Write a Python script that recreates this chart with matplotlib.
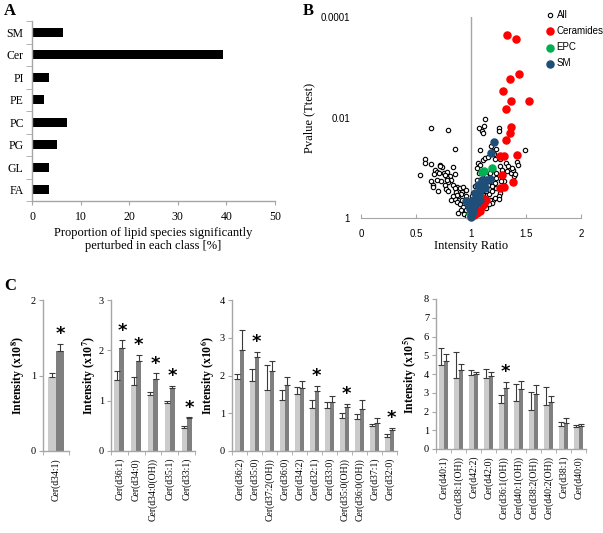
import numpy as np
import matplotlib.pyplot as plt

plt.rcParams['font.family'] = 'Liberation Serif'
plt.rcParams['mathtext.fontset'] = 'stix'

# ---------- panel A data ----------
classes = ['SM', 'Cer', 'PI', 'PE', 'PC', 'PG', 'GL', 'FA']
proportion = [6.4, 39.4, 3.4, 2.5, 7.2, 5.1, 3.4, 3.6]

# ---------- panel B data (x = intensity ratio, v = -log10 pvalue) ----------
all_x = [0.64, 0.79, 0.85, 0.58, 0.58, 0.54, 0.64, 0.72, 0.74, 0.67, 0.69, 0.66, 0.71, 0.75,
         0.78, 0.84, 0.85, 0.81, 0.78, 0.82, 0.79, 0.73, 0.69, 0.64, 0.65, 0.65, 0.70, 0.76,
         0.77, 0.79, 0.84, 0.87, 0.90, 0.93, 0.92, 0.91, 0.86, 0.88, 0.85, 0.87, 0.90, 0.93,
         0.95, 0.91, 0.88, 0.94, 0.96, 0.92, 0.95, 0.87, 0.84, 0.82, 0.95, 0.85, 0.97, 0.98,
         0.72, 0.76, 0.78,
         1.13, 1.07, 1.10, 1.11, 1.12, 1.25, 1.25, 1.08, 1.18, 1.20, 1.23, 1.49, 1.06, 1.08,
         1.11, 1.13, 1.15, 1.21, 1.22, 1.26, 1.23, 1.26, 1.28, 1.32, 1.34, 1.36, 1.38, 1.42,
         1.43, 1.39, 1.33, 1.30, 1.27, 1.22, 1.23, 1.26, 1.25, 1.20, 1.17, 1.19, 1.16, 1.14,
         1.22, 1.25, 1.12, 1.15, 1.10, 1.05, 1.04, 1.02, 1.01, 1.00, 1.03, 1.05, 1.08, 1.13,
         1.16, 1.19, 1.29, 1.37, 1.40, 1.05, 1.17, 1.20, 1.17, 1.19, 1.14, 1.11, 1.08, 1.05,
         1.01, 0.98, 1.02, 1.23, 1.14, 1.07, 1.02]
all_v = [1.80, 1.76, 1.37, 1.18, 1.09, 0.85, 1.07, 1.06, 1.01, 0.96, 0.92, 0.88, 0.90, 0.90,
         0.91, 1.01, 0.88, 0.83, 0.80, 0.75, 0.71, 0.73, 0.76, 0.73, 0.66, 0.62, 0.53, 0.66,
         0.58, 0.54, 0.66, 0.62, 0.59, 0.62, 0.52, 0.48, 0.52, 0.43, 0.38, 0.31, 0.27, 0.22,
         0.15, 0.15, 0.10, 0.07, 0.03, 0.36, 0.43, 0.46, 0.43, 0.36, 0.56, 0.60, 0.30, 0.20,
         1.04, 0.86, 0.76,
         1.97, 1.79, 1.74, 1.69, 1.84, 1.79, 1.74, 1.35, 1.43, 1.34, 1.38, 1.35, 1.09, 1.06,
         1.16, 1.19, 1.21, 1.28, 1.17, 1.18, 0.90, 1.03, 0.95, 1.09, 1.03, 0.90, 0.96, 1.11,
         1.05, 0.83, 0.93, 0.73, 0.73, 0.70, 0.60, 0.50, 0.43, 0.36, 0.36, 0.29, 0.27, 0.20,
         0.40, 0.38, 0.63, 0.66, 0.56, 0.76, 0.63, 0.50, 0.43, 0.36, 0.23, 0.18, 0.27, 0.40,
         0.48, 0.53, 0.86, 1.00, 0.88, 1.00, 0.90, 0.96, 0.73, 0.63, 0.53, 0.46, 0.36, 0.27,
         0.17, 0.10, 0.05, 0.80, 0.83, 0.90, 0.30]
cer_x = [1.33, 1.41, 1.44, 1.35, 1.29, 1.36, 1.53, 1.32, 1.36, 1.35, 1.32, 1.42, 1.26,
         1.30, 1.28, 1.38, 1.26, 1.30, 1.08, 1.11, 1.14, 1.12, 1.08, 1.05, 1.03, 1.10]
cer_v = [3.65, 3.57, 2.87, 2.77, 2.52, 2.32, 2.32, 2.17, 1.82, 1.69, 1.56, 1.26, 1.23,
         1.24, 0.85, 0.71, 0.60, 0.62, 0.43, 0.25, 0.36, 0.30, 0.13, 0.10, 0.05, 0.40]
epc_x = [1.10, 1.12, 1.19, 1.07, 1.04, 0.99, 1.01, 0.96]
epc_v = [0.91, 0.93, 1.00, 0.46, 0.36, 0.07, 0.10, 0.33]
sm_x = [1.21, 1.18, 1.10, 1.11, 1.14, 1.17, 1.13, 1.08, 1.07, 1.08, 1.02, 0.98, 0.95,
        0.99, 1.01, 1.02, 1.03, 1.05, 1.00, 1.04, 1.06, 1.12]
sm_v = [1.51, 1.29, 0.76, 0.70, 0.76, 0.78, 0.60, 0.56, 0.43, 0.36, 0.36, 0.23, 0.33,
        0.17, 0.07, 0.13, 0.23, 0.30, 0.02, 0.50, 0.66, 0.68]

# ---------- panel C data ----------
c1_labels = ['Cer(d34:1)']
c1_ctrl, c1_ctrl_err = [0.98], [0.05]
c1_trt, c1_trt_err = [1.33], [0.09]
c1_sig = [True]

c2_labels = ['Cer(d36:1)', 'Cer(d34:0)', 'Cer(d34:0(OH))', 'Cer(d35:1)', 'Cer(d33:1)']
c2_ctrl = [1.42, 1.31, 1.12, 0.96, 0.46]
c2_ctrl_err = [0.16, 0.17, 0.06, 0.04, 0.03]
c2_trt = [2.04, 1.78, 1.43, 1.25, 0.65]
c2_trt_err = [0.16, 0.13, 0.11, 0.05, 0.02]
c2_sig = [True, True, True, True, True]

c3_labels = ['Cer(d36:2)', 'Cer(d35:0)', 'Cer(d37:2(OH))', 'Cer(d36:0)', 'Cer(d34:2)',
             'Cer(d32:1)', 'Cer(d33:0)', 'Cer(d35:0(OH))', 'Cer(d36:0(OH))', 'Cer(d37:1)',
             'Cer(d32:0)']
c3_ctrl = [1.91, 1.86, 1.62, 1.34, 1.50, 1.15, 1.13, 0.88, 0.86, 0.66, 0.38]
c3_ctrl_err = [0.12, 0.31, 0.66, 0.28, 0.20, 0.20, 0.18, 0.12, 0.13, 0.06, 0.07]
c3_trt = [2.68, 2.50, 2.12, 1.75, 1.68, 1.58, 1.29, 1.17, 1.11, 0.75, 0.55]
c3_trt_err = [0.53, 0.13, 0.26, 0.20, 0.18, 0.15, 0.16, 0.07, 0.25, 0.12, 0.07]
c3_sig = [False, True, False, False, False, True, False, True, False, False, True]

c4_labels = ['Cer(d40:1)', 'Cer(d38:1(OH))', 'Cer(d42:2)', 'Cer(d42:0)', 'Cer(d36:1(OH))',
             'Cer(d40:1(OH))', 'Cer(d38:2(OH))', 'Cer(d40:2(OH))', 'Cer(d38:1)', 'Cer(d40:0)']
c4_ctrl = [4.47, 3.77, 3.95, 3.78, 2.47, 2.55, 2.10, 2.35, 1.23, 1.17]
c4_ctrl_err = [0.93, 1.43, 0.25, 0.50, 0.43, 0.90, 0.93, 0.95, 0.22, 0.13]
c4_trt = [4.72, 4.20, 4.00, 3.90, 3.25, 3.20, 2.92, 2.52, 1.37, 1.25]
c4_trt_err = [0.33, 0.33, 0.10, 0.22, 0.33, 0.45, 0.52, 0.33, 0.28, 0.08]
c4_sig = [False, False, False, False, True, False, False, False, False, False]

AXIS_GRAY = '#a6a6a6'
LIGHT = '#cbcbcb'
DARK = '#7f7f7f'
W, H = 603, 533


def box(l, t, r, b):
    """pixel box -> figure fraction rect"""
    return [l / W, 1 - b / H, (r - l) / W, (b - t) / H]


def gray_frame(ax):
    for s in ['top', 'right']:
        ax.spines[s].set_visible(False)
    for s in ['left', 'bottom']:
        ax.spines[s].set_color(AXIS_GRAY)
        ax.spines[s].set_linewidth(1.0)


fig = plt.figure(figsize=(W / 100, H / 100), dpi=100)

# ====== A: horizontal bars ======
axA = fig.add_axes(box(32, 21, 275, 201))
yy = np.arange(len(classes))
axA.barh(yy, proportion, height=0.42, color='black')
axA.set_ylim(len(classes) - 0.5, -0.5)
axA.set_xlim(0, 50)
axA.set_xticks([0, 10, 20, 30, 40, 50])
axA.set_yticks(yy)
axA.set_yticklabels(classes)
axA.set_yticks(np.arange(-0.5, len(classes)), minor=True)
axA.tick_params(axis='y', which='major', length=0, pad=6, labelsize=8.5)
axA.tick_params(axis='y', which='minor', length=4, color=AXIS_GRAY)
axA.tick_params(axis='x', length=3, color=AXIS_GRAY, labelsize=8.5, pad=4)
gray_frame(axA)
axA.set_xlabel('Proportion of lipid species significantly\nperturbed in each class [%]',
               fontsize=9, linespacing=1.15, labelpad=3)

# ====== B: volcano-like scatter ======
axB = fig.add_axes(box(361, 17, 581, 218))
axB.set_yscale('log')
axB.axvline(1, color=AXIS_GRAY, lw=1.0, zorder=0)
pv = lambda v: 10.0 ** (-np.array(v))
axB.scatter(all_x, pv(all_v), s=10, facecolors='white', edgecolors='black',
            linewidths=0.8, clip_on=False, zorder=2, label='All')
axB.scatter(cer_x, pv(cer_v), s=26, color='#ff0000', clip_on=False, zorder=3, label='Ceramides')
axB.scatter(epc_x, pv(epc_v), s=26, color='#00b050', clip_on=False, zorder=4, label='EPC')
axB.scatter(sm_x, pv(sm_v), s=26, color='#1f4e79', clip_on=False, zorder=5, label='SM')
axB.set_xlim(0, 2)
axB.set_ylim(1, 1e-4)
axB.set_yticks([1, 1e-2, 1e-4])
axB.set_yticklabels(['1', '0.01', '0.0001'])
axB.yaxis.set_minor_locator(plt.NullLocator())
axB.set_xticks([0, 0.5, 1, 1.5, 2])
axB.set_xticklabels(['0', '0.5', '1', '1.5', '2'])
axB.tick_params(axis='y', length=0, pad=8, labelsize=7)
axB.tick_params(axis='x', direction='in', length=3, color=AXIS_GRAY, pad=8, labelsize=7)
for lbl in axB.get_xticklabels() + axB.get_yticklabels():
    lbl.set_family('Liberation Sans')
axB.spines['top'].set_visible(False)
axB.spines['right'].set_visible(False)
axB.spines['left'].set_visible(False)
axB.spines['bottom'].set_color(AXIS_GRAY)
axB.set_xlabel('Intensity Ratio', fontsize=9, labelpad=1)
axB.set_ylabel('Pvalue (Ttest)', fontsize=9, labelpad=4)
axB.legend(loc='upper left', bbox_to_anchor=(546 / W, 1 - 10 / H), bbox_transform=fig.transFigure,
           frameon=False, prop={'family': 'Liberation Sans', 'size': 7}, handlelength=0.8,
           handletextpad=0.3, labelspacing=0.62, borderaxespad=0, borderpad=0)


# ====== C: grouped bars ======
def bar_panel(px, labels, ctrl, ctrl_err, trt, trt_err, sig, ymax, exp, label_right):
    ax = fig.add_axes(box(*px))
    x = np.arange(len(labels))
    bw = 0.3
    ekw = dict(ecolor='#3a3a3a', elinewidth=0.8, capsize=2.2, capthick=0.8)
    zeros = np.zeros(len(x))
    ax.bar(x - bw / 2, ctrl, bw, color=LIGHT, yerr=[zeros, ctrl_err], error_kw=ekw)
    ax.bar(x + bw / 2, trt, bw, color=DARK, yerr=[zeros, trt_err], error_kw=ekw)
    tops = np.array(trt) + np.array(trt_err)
    for xi, top, s in zip(x, tops, sig):
        if s:
            ax.annotate('*', (xi + bw / 2, top), xytext=(0, 7), textcoords='offset points',
                        ha='center', va='center', fontsize=13, fontweight='bold',
                        family='DejaVu Sans')
    ax.set_xlim(-0.5, len(x) - 0.5)
    ax.set_ylim(0, ymax)
    ax.set_yticks(range(0, ymax + 1))
    ax.set_xticks(x)
    ax.set_xticklabels(labels, rotation=90, fontsize=7)
    ax.set_xticks(np.arange(-0.5, len(x)), minor=True)
    ax.tick_params(axis='x', which='major', length=0, pad=5)
    ax.tick_params(axis='x', which='minor', length=3, color=AXIS_GRAY)
    ax.tick_params(axis='y', length=3, color=AXIS_GRAY, labelsize=7.5, pad=2)
    gray_frame(ax)
    ax.set_ylabel(r'Intensity (x10$^{\mathbf{%d}}$)' % exp, fontweight='bold', fontsize=8.5)
    ax.yaxis.set_label_coords((label_right - px[0]) / (px[2] - px[0]), 0.5)
    return ax


bar_panel((43, 300, 69, 451), c1_labels, c1_ctrl, c1_ctrl_err, c1_trt, c1_trt_err, c1_sig, 2, 8, 27)
bar_panel((111, 300, 195, 451), c2_labels, c2_ctrl, c2_ctrl_err, c2_trt, c2_trt_err, c2_sig, 3, 7, 98)
bar_panel((232, 300, 397, 451), c3_labels, c3_ctrl, c3_ctrl_err, c3_trt, c3_trt_err, c3_sig, 4, 6, 216)
bar_panel((436, 299, 586, 449), c4_labels, c4_ctrl, c4_ctrl_err, c4_trt, c4_trt_err, c4_sig, 8, 5, 419)

# panel letters
fig.text(4 / W, 1 - 11 / H, 'A', fontsize=12, fontweight='bold', va='center')
fig.text(303 / W, 1 - 11 / H, 'B', fontsize=12, fontweight='bold', va='center')
fig.text(4 / W, 1 - 286 / H, 'C', fontsize=12, fontweight='bold', va='center')

fig.savefig('out.png', dpi=100)
